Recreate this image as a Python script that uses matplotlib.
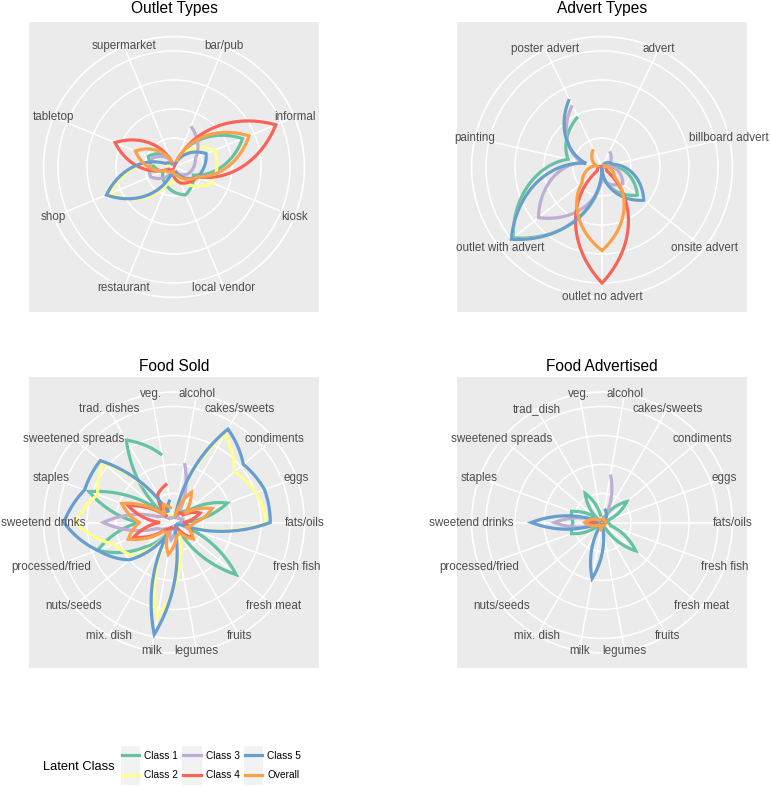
import numpy as np
import matplotlib
matplotlib.use("Agg")
import matplotlib.pyplot as plt
from matplotlib.patches import Rectangle
from matplotlib.lines import Line2D

plt.rcParams['font.family'] = ['Liberation Sans', 'DejaVu Sans']

# ---------------- data ----------------
series_names = ["Class 1", "Class 2", "Class 3", "Class 4", "Class 5", "Overall"]
series_colors = ["#66C2A5", "#FFFF8F", "#BEAED4", "#F8645A", "#679ECF", "#FDA04A"]

outlet_cats = ["bar/pub", "informal", "kiosk", "local vendor", "restaurant",
               "shop", "tabletop", "supermarket"]
outlet_c1 = [0.05, 0.64, 0.18, 0.26, 0.17, 0.10, 0.24, 0.08]
outlet_c2 = [0.05, 0.38, 0.36, 0.10, 0.16, 0.60, 0.05, 0.02]
outlet_c3 = [0.38, 0.20, 0.14, 0.05, 0.05, 0.22, 0.20, 0.05]
outlet_c4 = [0.00, 0.95, 0.22, 0.15, 0.02, 0.05, 0.55, 0.03]
outlet_c5 = [0.03, 0.30, 0.22, 0.05, 0.08, 0.63, 0.08, 0.02]
outlet_ov = [0.05, 0.70, 0.22, 0.08, 0.04, 0.08, 0.36, 0.04]

advert_cats = ["advert", "billboard advert", "onsite advert", "outlet no advert",
               "outlet with advert", "painting", "poster advert"]
advert_c1 = [0.00, 0.05, 0.39, 0.03, 0.98, 0.30, 0.48]
advert_c2 = [0.02, 0.10, 0.46, 0.00, 1.00, 0.14, 0.65]
advert_c3 = [0.15, 0.05, 0.23, 0.10, 0.70, 0.18, 0.59]
advert_c4 = [0.00, 0.02, 0.05, 1.00, 0.05, 0.02, 0.00]
advert_c5 = [0.02, 0.10, 0.46, 0.00, 1.00, 0.14, 0.65]
advert_ov = [0.02, 0.02, 0.14, 0.72, 0.22, 0.05, 0.17]

sold_cats = ["alcohol", "cakes/sweets", "condiments", "eggs", "fats/oils",
             "fresh fish", "fresh meat", "fruits", "legumes", "milk", "mix. dish",
             "nuts/seeds", "processed/fried", "sweetend drinks", "staples",
             "sweetened spreads", "trad. dishes", "veg."]
sold_c1 = [0.03, 0.10, 0.15, 0.49, 0.08, 0.10, 0.70, 0.08, 0.05, 0.05, 0.08,
           0.33, 0.70, 0.30, 0.78, 0.15, 0.82, 0.59]
sold_c2 = [0.05, 0.88, 0.68, 0.75, 0.80, 0.03, 0.03, 0.05, 0.30, 0.83, 0.08,
           0.45, 0.55, 0.85, 0.70, 0.80, 0.08, 0.05]
sold_c3 = [0.52, 0.05, 0.05, 0.08, 0.05, 0.03, 0.03, 0.03, 0.05, 0.15, 0.05,
           0.08, 0.15, 0.61, 0.15, 0.05, 0.05, 0.03]
sold_c4 = [0.05, 0.10, 0.10, 0.24, 0.08, 0.15, 0.20, 0.05, 0.05, 0.05, 0.05,
           0.10, 0.37, 0.12, 0.42, 0.08, 0.28, 0.34]
sold_c5 = [0.05, 0.93, 0.78, 0.83, 0.83, 0.05, 0.03, 0.03, 0.08, 0.98, 0.10,
           0.50, 0.70, 0.95, 0.82, 0.83, 0.10, 0.20]
sold_ov = [0.05, 0.30, 0.12, 0.35, 0.18, 0.12, 0.22, 0.10, 0.12, 0.28, 0.10,
           0.12, 0.42, 0.30, 0.48, 0.10, 0.18, 0.12]

adv_food_cats = ["alcohol", "cakes/sweets", "condiments", "eggs", "fats/oils",
                 "fresh fish", "fresh meat", "fruits", "legumes", "milk", "mix. dish",
                 "nuts/seeds", "processed/fried", "sweetend drinks", "staples",
                 "sweetened spreads", "trad_dish", "veg."]
advf_c1 = [0.02, 0.08, 0.28, 0.05, 0.05, 0.08, 0.38, 0.05, 0.03, 0.03, 0.03,
           0.05, 0.28, 0.25, 0.28, 0.05, 0.29, 0.05]
advf_c2 = [0.02, 0.03, 0.03, 0.02, 0.02, 0.02, 0.03, 0.02, 0.02, 0.05, 0.02,
           0.02, 0.05, 0.10, 0.05, 0.02, 0.02, 0.02]
advf_c3 = [0.42, 0.05, 0.03, 0.02, 0.02, 0.02, 0.02, 0.02, 0.02, 0.05, 0.02,
           0.02, 0.05, 0.41, 0.05, 0.02, 0.02, 0.02]
advf_c4 = [0.02, 0.02, 0.02, 0.02, 0.02, 0.02, 0.02, 0.02, 0.02, 0.04, 0.02,
           0.02, 0.04, 0.10, 0.04, 0.02, 0.02, 0.02]
advf_c5 = [0.12, 0.08, 0.03, 0.02, 0.02, 0.02, 0.02, 0.02, 0.05, 0.49, 0.05,
           0.02, 0.05, 0.61, 0.05, 0.02, 0.02, 0.02]
advf_ov = [0.04, 0.03, 0.03, 0.03, 0.03, 0.03, 0.03, 0.03, 0.03, 0.06, 0.03,
           0.03, 0.08, 0.15, 0.08, 0.03, 0.03, 0.03]

panels = [
    ("Outlet Types", outlet_cats, [outlet_c1, outlet_c2, outlet_c3, outlet_c4, outlet_c5, outlet_ov]),
    ("Advert Types", advert_cats, [advert_c1, advert_c2, advert_c3, advert_c4, advert_c5, advert_ov]),
    ("Food Sold", sold_cats, [sold_c1, sold_c2, sold_c3, sold_c4, sold_c5, sold_ov]),
    ("Food Advertised", adv_food_cats, [advf_c1, advf_c2, advf_c3, advf_c4, advf_c5, advf_ov]),
]

# ---------------- layout ----------------
W, H = 770, 786
fig = plt.figure(figsize=(W / 100, H / 100), dpi=100)
fig.patch.set_facecolor("white")

panel_boxes = [(29, 22), (457, 22), (29, 377.5), (457, 377.5)]  # left, top in px
title_base = [12.7, 12.7, 370.7, 370.7]
PS = 290.0
R_MAX = 1.0            # data value at 0.4 of panel
R_OUT = R_MAX * 0.45 / 0.4
breaks = [0.25, 0.5, 0.75, 1.0]


def px_rect(x0, y0, w, h):
    return [x0 / W, 1 - (y0 + h) / H, w / W, h / H]


for (title, cats, data), (px0, py0), tb in zip(panels, panel_boxes, title_base):
    bg = fig.add_axes(px_rect(px0, py0, PS, PS))
    bg.set_facecolor("#EBEBEB")
    bg.set_xticks([]); bg.set_yticks([])
    for s in bg.spines.values():
        s.set_visible(False)

    cx, cy = px0 + PS / 2, py0 + PS / 2
    rad = 0.45 * PS
    ax = fig.add_axes(px_rect(cx - rad, cy - rad, 2 * rad, 2 * rad), projection="polar")
    ax.patch.set_alpha(0)
    ax.set_theta_zero_location("N")
    ax.set_theta_direction(-1)
    n = len(cats)
    theta = (np.arange(n) + 0.5) / n * 2 * np.pi
    ax.set_ylim(0, R_OUT)
    ax.set_xticks(theta)
    ax.set_xticklabels([])
    ax.set_yticks(breaks + [R_OUT])
    ax.set_yticklabels([])
    ax.tick_params(length=0)
    ax.grid(True, color="white", linewidth=1.1)
    ax.spines["polar"].set_color("white")
    ax.spines["polar"].set_linewidth(1.1)

    for vals, col in zip(data, series_colors):
        ln, = ax.plot(theta, vals, color=col, linewidth=2.3,
                      solid_joinstyle="miter", solid_capstyle="butt", zorder=3)
        ln.get_path()._interpolation_steps = 60

    for t, lab in zip(theta, cats):
        ax.text(t, R_OUT, lab, ha="center", va="center", fontsize=8.4,
                color="#4D4D4D", clip_on=False, zorder=5)

    fig.text(cx / W, 1 - tb / H, title, ha="center", va="baseline",
             fontsize=11.2, color="black")

# ---------------- legend ----------------
lax = fig.add_axes([0, 0, 1, 1], zorder=-1)
lax.set_xlim(0, W); lax.set_ylim(H, 0)
lax.axis("off")
lax.text(43, 767, "Latent Class", ha="left", va="center", fontsize=9.3, color="black")
col_x = [120.5, 182, 243.5]
row_y = [745.5, 765]
lab_x = [144.5, 206, 267]
for i, (nm, col) in enumerate(zip(series_names, series_colors)):
    c, r = i // 2, i % 2
    x0, y0 = col_x[c], row_y[r]
    lax.add_patch(Rectangle((x0, y0), 19.5, 19.5, facecolor="#F2F2F2", edgecolor="none"))
    lax.add_line(Line2D([x0 + 1, x0 + 18.5], [y0 + 9.75, y0 + 9.75], color=col, linewidth=2.3))
    lax.text(lab_x[c], y0 + 10.5, nm, ha="left", va="center", fontsize=7.3, color="black")

fig.savefig("out.png", dpi=100, facecolor="white")
